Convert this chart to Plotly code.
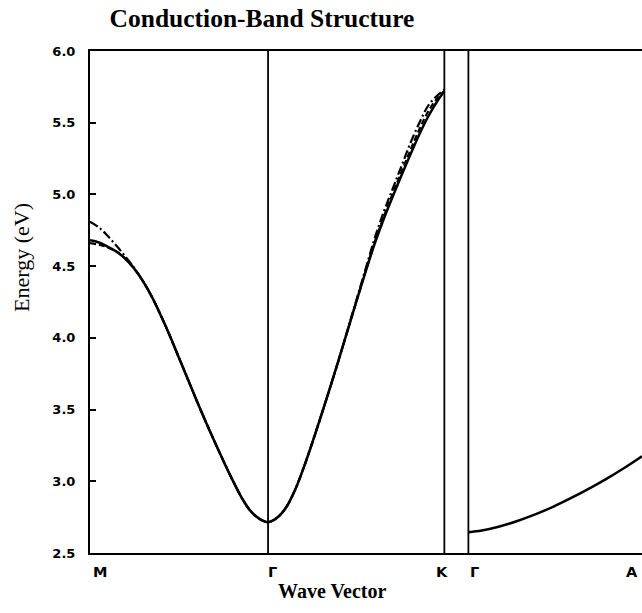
import plotly.graph_objects as go

# Symmetry points along the wave-vector path
sym_labels = ["M", "Γ", "K", "Γ", "A"]
sym_k = [0.0, 1.0, 1.99, 2.125, 3.045]

# M -> Γ -> K segment (wave vector, arbitrary path units)
k_mgk = [0.00, 0.05, 0.10, 0.15, 0.20, 0.25, 0.30, 0.35, 0.40, 0.45,
         0.50, 0.55, 0.60, 0.65, 0.70, 0.75, 0.80, 0.85, 0.90, 0.95,
         1.00, 1.05, 1.10, 1.15, 1.20, 1.25, 1.30, 1.35, 1.40, 1.45,
         1.50, 1.55, 1.60, 1.65, 1.70, 1.75, 1.80, 1.85, 1.90, 1.95, 1.99]
e_solid_mgk = [4.68, 4.665, 4.635, 4.60, 4.55, 4.48, 4.39, 4.28, 4.15, 4.01,
               3.86, 3.71, 3.56, 3.415, 3.275, 3.14, 3.01, 2.89, 2.795, 2.74,
               2.715, 2.745, 2.815, 2.935, 3.095, 3.275, 3.465, 3.66, 3.86, 4.065,
               4.27, 4.47, 4.66, 4.83, 4.985, 5.135, 5.28, 5.42, 5.545, 5.65, 5.72]
e_dash_mgk = [4.66, 4.65, 4.63, 4.60, 4.55, 4.48, 4.39, 4.28, 4.15, 4.01,
              3.86, 3.71, 3.56, 3.415, 3.275, 3.14, 3.01, 2.89, 2.795, 2.74,
              2.715, 2.745, 2.815, 2.935, 3.095, 3.275, 3.465, 3.66, 3.86, 4.065,
              4.27, 4.475, 4.67, 4.845, 5.005, 5.16, 5.31, 5.455, 5.58, 5.67, 5.72]
e_dashdot_mgk = [4.81, 4.77, 4.71, 4.64, 4.565, 4.485, 4.39, 4.28, 4.15, 4.01,
                 3.86, 3.71, 3.56, 3.415, 3.275, 3.14, 3.01, 2.89, 2.795, 2.74,
                 2.715, 2.745, 2.815, 2.935, 3.095, 3.275, 3.465, 3.66, 3.86, 4.07,
                 4.28, 4.49, 4.70, 4.88, 5.04, 5.20, 5.36, 5.50, 5.62, 5.69, 5.73]

# Γ -> A segment
k_ga = [2.125, 2.2, 2.3, 2.4, 2.5, 2.6, 2.7, 2.8, 2.9, 3.0, 3.1]
e_solid_ga = [2.645, 2.657, 2.685, 2.723, 2.769, 2.822, 2.882, 2.947, 3.017, 3.093, 3.175]

y_ticks = [2.5, 3.0, 3.5, 4.0, 4.5, 5.0, 5.5, 6.0]

fig = go.Figure()
fig.add_trace(go.Scatter(x=k_mgk, y=e_dashdot_mgk, mode="lines",
                         line=dict(color="black", width=2.2, dash="9px,3px,2px,3px", shape="spline")))
fig.add_trace(go.Scatter(x=k_mgk, y=e_dash_mgk, mode="lines",
                         line=dict(color="black", width=2.2, dash="6px,3px", shape="spline")))
fig.add_trace(go.Scatter(x=k_mgk, y=e_solid_mgk, mode="lines",
                         line=dict(color="black", width=2.5, shape="spline")))
fig.add_trace(go.Scatter(x=k_ga, y=e_solid_ga, mode="lines",
                         line=dict(color="black", width=2.5, shape="spline")))

# vertical separators at Γ, K and second Γ
for kv in sym_k[1:4]:
    fig.add_shape(type="line", x0=kv, x1=kv, y0=y_ticks[0], y1=y_ticks[-1],
                  xref="x", yref="y", line=dict(color="black", width=1.8))

# symmetry point labels
label_shift = [10, 4, -2, 6, 0]
for lab, kv, sh in zip(sym_labels, sym_k, label_shift):
    fig.add_annotation(x=kv, y=-0.038, xref="x", yref="paper", text=lab, showarrow=False,
                       xshift=sh, xanchor="center", yanchor="middle",
                       font=dict(family="DejaVu Sans", size=14.5, color="black", weight="bold"))

fig.add_annotation(x=0.438, y=-0.0757, xref="paper", yref="paper", text="Wave Vector",
                   showarrow=False, xanchor="center", yanchor="middle",
                   font=dict(family="Liberation Serif", size=20, color="black", weight="bold"))
fig.add_annotation(x=-0.123, y=0.588, xref="paper", yref="paper", text="Energy (eV)",
                   showarrow=False, textangle=-90, xanchor="center", yanchor="middle",
                   font=dict(family="Liberation Serif", size=22, color="black"))

fig.update_layout(
    width=642, height=613,
    margin=dict(l=90, r=0, t=51, b=60),
    paper_bgcolor="white", plot_bgcolor="white",
    showlegend=False,
    title=dict(text="Conduction-Band Structure", x=262 / 642, xanchor="center",
               y=1 - 18 / 613, yanchor="middle", xref="container", yref="container",
               font=dict(family="Liberation Serif", size=25.5, color="black", weight="bold")),
)
fig.update_xaxes(range=[0, 3.10], showgrid=False, zeroline=False, showticklabels=False,
                 ticks="", showline=True, linecolor="black", linewidth=2, mirror=True)
fig.update_yaxes(range=[2.5, 6.0], tickvals=y_ticks, tickformat=".1f", showgrid=False,
                 zeroline=False, ticks="inside", ticklen=6, tickwidth=2, tickcolor="black",
                 showline=True, linecolor="black", linewidth=2, mirror=False,
                 ticklabelstandoff=10,
                 tickfont=dict(family="DejaVu Sans", size=13, color="black", weight="bold"))

fig.write_html(
    "out.html",
    config={"displayModeBar": False},
    post_script="document.body.style.margin='0';document.body.style.overflow='hidden';",
)
